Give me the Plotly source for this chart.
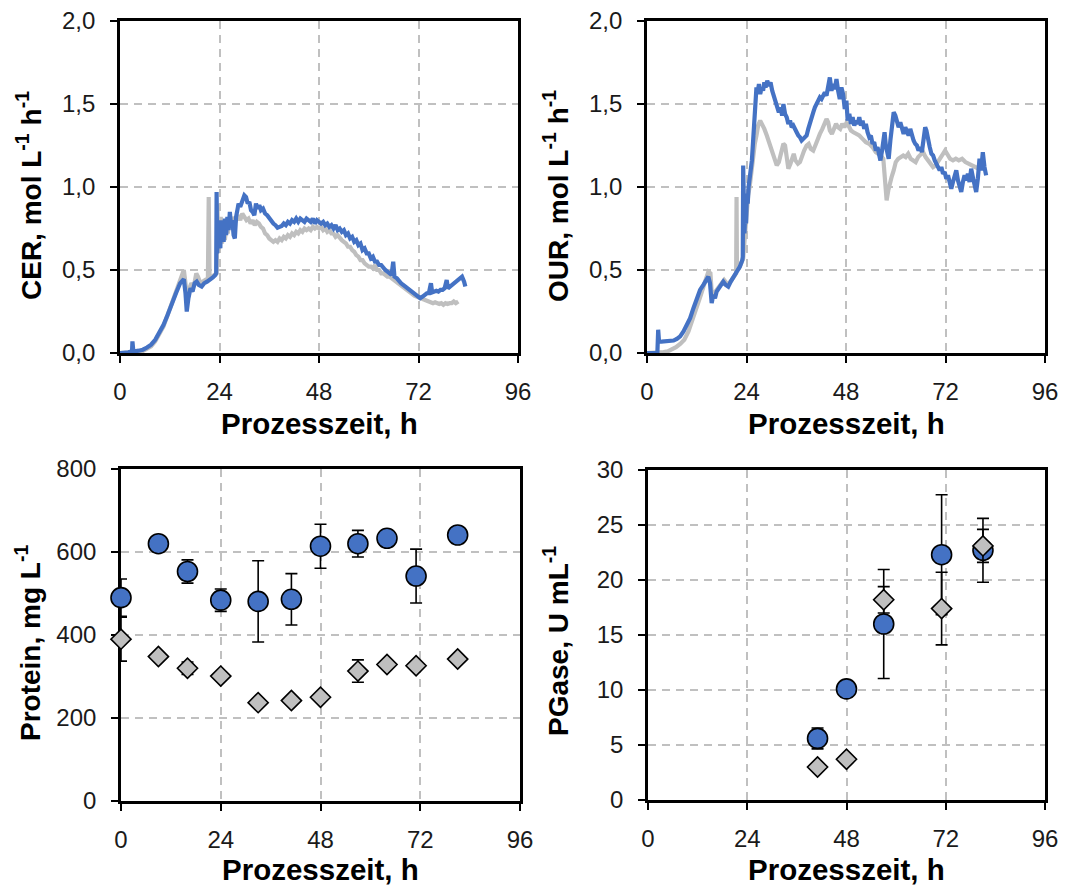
import plotly.graph_objects as go

# ---- Online off-gas data: (Prozesszeit h, rate mol L-1 h-1) ----
CER_BLUE = [(0, 0.0), (1.0, 0.0), (2.0, 0.004), (2.9, 0.01), (3.0, 0.07), (3.2, 0.015), (3.6, 0.01), (4.5, 0.014),
            (5.5, 0.02), (6.5, 0.033), (7.5, 0.05), (8.5, 0.08), (9.5, 0.12), (10.5, 0.17), (11.5, 0.23), (12.5, 0.30),
            (13.5, 0.36), (14.5, 0.42), (15.0, 0.44), (15.4, 0.445), (15.8, 0.36), (16.1, 0.25), (16.5, 0.33),
            (17.0, 0.39), (17.5, 0.37), (18.0, 0.42), (18.5, 0.43), (19.0, 0.41), (19.7, 0.40), (20.3, 0.42),
            (21.0, 0.43), (21.7, 0.44), (22.4, 0.455), (23.0, 0.47), (23.2, 0.48), (23.3, 0.97), (23.45, 0.60),
            (23.6, 0.80), (23.8, 0.65), (24.0, 0.77), (24.2, 0.63), (24.4, 0.80), (24.6, 0.69), (24.8, 0.78),
            (25.0, 0.67), (25.3, 0.81), (25.6, 0.71), (25.9, 0.82), (26.2, 0.74), (26.5, 0.85), (26.8, 0.76),
            (27.1, 0.80), (27.4, 0.71), (27.7, 0.69), (28.0, 0.82), (28.3, 0.86), (28.6, 0.90), (29.0, 0.88),
            (29.5, 0.92), (30.0, 0.95), (30.4, 0.94), (30.8, 0.90), (31.2, 0.91), (31.6, 0.86), (32.0, 0.85),
            (32.4, 0.83), (32.8, 0.90), (33.2, 0.87), (33.6, 0.89), (34.0, 0.86), (34.5, 0.87), (35.0, 0.84),
            (35.5, 0.83), (36.0, 0.81), (36.5, 0.80), (37.0, 0.78), (37.5, 0.77), (38.0, 0.755), (38.5, 0.76),
            (39.0, 0.765), (39.5, 0.78), (40.0, 0.77), (40.5, 0.79), (41.0, 0.78), (41.5, 0.80), (42.0, 0.79),
            (42.5, 0.81), (43.0, 0.79), (43.5, 0.81), (44.0, 0.80), (44.5, 0.79), (45.0, 0.81), (45.5, 0.80),
            (46.0, 0.79), (46.5, 0.81), (47.0, 0.78), (47.5, 0.80), (48.0, 0.79), (48.5, 0.78), (49.0, 0.79),
            (49.5, 0.77), (50.0, 0.78), (50.5, 0.76), (51.0, 0.77), (51.5, 0.75), (52.0, 0.77), (52.5, 0.74),
            (53.0, 0.75), (53.5, 0.73), (54.0, 0.74), (54.5, 0.71), (55.0, 0.72), (55.5, 0.69), (56.0, 0.70),
            (56.5, 0.67), (57.0, 0.68), (57.5, 0.65), (58.0, 0.66), (58.5, 0.62), (59.0, 0.63), (59.5, 0.60),
            (60.0, 0.60), (60.5, 0.57), (61.0, 0.58), (61.5, 0.55), (62.0, 0.55), (62.5, 0.53), (63.0, 0.53),
            (63.5, 0.51), (64.0, 0.50), (64.5, 0.49), (65.0, 0.48), (65.5, 0.47), (65.9, 0.55), (66.2, 0.46),
            (66.8, 0.45), (67.3, 0.43), (67.8, 0.42), (68.3, 0.41), (68.8, 0.40), (69.3, 0.39), (69.8, 0.38),
            (70.3, 0.37), (70.8, 0.36), (71.3, 0.35), (71.8, 0.34), (72.4, 0.33), (73.0, 0.34), (73.5, 0.35),
            (74.0, 0.36), (74.5, 0.36), (75.0, 0.42), (75.3, 0.365), (75.8, 0.37), (76.3, 0.375), (76.8, 0.37),
            (77.3, 0.38), (77.8, 0.38), (78.3, 0.39), (78.8, 0.44), (79.1, 0.39), (79.6, 0.40), (80.1, 0.41),
            (80.6, 0.42), (81.1, 0.43), (81.6, 0.44), (82.1, 0.45), (82.5, 0.46), (83.0, 0.43), (83.3, 0.40)]

CER_GRAY = [(0, 0.0), (2.0, 0.0), (3.5, 0.0), (4.5, 0.005), (5.5, 0.012), (6.5, 0.025), (7.5, 0.04), (8.5, 0.07),
            (9.5, 0.11), (10.5, 0.16), (11.5, 0.23), (12.5, 0.30), (13.5, 0.37), (14.5, 0.44), (15.0, 0.48),
            (15.4, 0.50), (15.8, 0.42), (16.2, 0.33), (16.6, 0.38), (17.2, 0.42), (17.8, 0.40), (18.4, 0.48),
            (18.8, 0.46), (19.4, 0.42), (20.0, 0.43), (20.6, 0.44), (21.2, 0.45), (21.4, 0.94), (21.6, 0.46),
            (22.2, 0.46), (22.8, 0.47), (23.3, 0.48), (23.5, 0.90), (23.7, 0.62), (24.0, 0.70), (24.3, 0.82),
            (24.6, 0.66), (25.0, 0.76), (25.3, 0.68), (25.7, 0.78), (26.0, 0.72), (26.4, 0.80), (26.8, 0.77),
            (27.2, 0.82), (27.6, 0.78), (28.0, 0.81), (28.5, 0.83), (29.0, 0.80), (29.5, 0.84), (30.0, 0.82),
            (30.5, 0.80), (31.0, 0.81), (31.5, 0.78), (32.0, 0.80), (32.5, 0.77), (33.0, 0.79), (33.5, 0.78),
            (34.0, 0.76), (34.5, 0.75), (35.0, 0.72), (35.5, 0.71), (36.0, 0.69), (36.5, 0.68), (37.0, 0.67),
            (37.5, 0.68), (38.0, 0.67), (38.5, 0.69), (39.0, 0.68), (39.5, 0.70), (40.0, 0.69), (40.5, 0.71),
            (41.0, 0.70), (41.5, 0.72), (42.0, 0.71), (42.5, 0.73), (43.0, 0.72), (43.5, 0.74), (44.0, 0.73),
            (44.5, 0.75), (45.0, 0.74), (45.5, 0.75), (46.0, 0.74), (46.5, 0.76), (47.0, 0.75), (47.5, 0.76),
            (48.0, 0.75), (48.5, 0.76), (49.0, 0.74), (49.5, 0.75), (50.0, 0.73), (50.5, 0.74), (51.0, 0.72),
            (51.5, 0.72), (52.0, 0.70), (52.5, 0.71), (53.0, 0.69), (53.5, 0.68), (54.0, 0.67), (54.5, 0.66),
            (55.0, 0.64), (55.5, 0.64), (56.0, 0.62), (56.5, 0.61), (57.0, 0.59), (57.5, 0.58), (58.0, 0.56),
            (58.5, 0.56), (59.0, 0.54), (59.5, 0.53), (60.0, 0.52), (60.5, 0.52), (61.0, 0.51), (61.5, 0.53),
            (62.0, 0.50), (62.5, 0.50), (63.0, 0.48), (63.5, 0.48), (64.0, 0.47), (64.5, 0.46), (65.0, 0.46),
            (65.5, 0.45), (66.0, 0.44), (66.5, 0.43), (67.0, 0.42), (67.5, 0.41), (68.0, 0.40), (68.5, 0.39),
            (69.0, 0.38), (69.5, 0.37), (70.0, 0.36), (70.5, 0.35), (71.0, 0.345), (71.5, 0.34), (72.0, 0.335),
            (72.5, 0.33), (73.0, 0.33), (73.5, 0.32), (74.0, 0.32), (74.5, 0.31), (75.0, 0.31), (75.5, 0.30),
            (76.0, 0.305), (76.5, 0.30), (77.0, 0.295), (77.5, 0.30), (78.0, 0.29), (78.5, 0.30), (79.0, 0.295),
            (79.5, 0.30), (80.0, 0.30), (80.5, 0.31), (81.0, 0.30), (81.6, 0.31)]

OUR_BLUE = [(0, 0.0), (2.5, 0.0), (2.7, 0.14), (2.9, 0.07), (3.5, 0.068), (4.5, 0.07), (5.5, 0.072), (6.4, 0.075),
            (7.2, 0.085), (8.0, 0.10), (8.8, 0.13), (9.6, 0.17), (10.4, 0.21), (11.2, 0.27), (12.0, 0.33),
            (12.8, 0.38), (13.6, 0.41), (14.2, 0.44), (14.8, 0.46), (15.2, 0.42), (15.6, 0.30), (16.0, 0.35),
            (16.4, 0.33), (16.8, 0.37), (17.4, 0.39), (18.0, 0.42), (18.4, 0.43), (19.0, 0.41), (19.6, 0.40),
            (20.2, 0.43), (20.7, 0.45), (21.2, 0.47), (21.8, 0.50), (22.4, 0.52), (23.0, 0.56), (23.1, 0.58),
            (23.2, 1.13), (23.35, 0.85), (23.5, 0.72), (23.7, 0.86), (23.9, 0.78), (24.1, 0.96), (24.3, 0.90),
            (24.5, 1.00), (24.8, 1.06), (25.0, 1.12), (25.3, 1.16), (25.6, 1.28), (25.9, 1.38), (26.1, 1.46),
            (26.4, 1.60), (26.7, 1.57), (27.0, 1.62), (27.3, 1.56), (27.7, 1.60), (28.0, 1.58), (28.3, 1.63),
            (28.6, 1.60), (29.0, 1.64), (29.4, 1.61), (29.8, 1.63), (30.2, 1.58), (30.6, 1.55), (31.0, 1.51),
            (31.4, 1.47), (31.8, 1.45), (32.2, 1.48), (32.6, 1.43), (32.9, 1.50), (33.3, 1.44), (33.7, 1.42),
            (34.1, 1.38), (34.5, 1.40), (34.9, 1.36), (35.3, 1.37), (35.7, 1.34), (36.1, 1.33), (36.5, 1.31),
            (36.9, 1.30), (37.3, 1.28), (37.7, 1.29), (38.1, 1.30), (38.5, 1.31), (38.9, 1.35), (39.3, 1.39),
            (39.7, 1.42), (40.1, 1.45), (40.5, 1.48), (40.9, 1.50), (41.3, 1.52), (41.7, 1.54), (42.1, 1.53),
            (42.5, 1.56), (42.9, 1.57), (43.3, 1.55), (43.7, 1.62), (44.1, 1.66), (44.5, 1.58), (44.9, 1.62),
            (45.3, 1.59), (45.7, 1.65), (46.1, 1.58), (46.5, 1.53), (46.9, 1.60), (47.3, 1.56), (47.7, 1.47),
            (48.1, 1.52), (48.4, 1.40), (48.8, 1.44), (49.2, 1.38), (49.6, 1.42), (50.0, 1.37), (50.4, 1.40),
            (50.8, 1.38), (51.2, 1.42), (51.6, 1.37), (52.0, 1.40), (52.4, 1.35), (52.8, 1.38), (53.2, 1.33),
            (53.6, 1.30), (54.0, 1.31), (54.4, 1.26), (54.8, 1.27), (55.2, 1.22), (55.6, 1.24), (56.0, 1.19),
            (56.3, 1.16), (56.7, 1.22), (57.0, 1.30), (57.3, 1.33), (57.6, 1.25), (58.0, 1.20), (58.3, 1.17),
            (58.7, 1.28), (59.1, 1.38), (59.5, 1.45), (59.9, 1.43), (60.3, 1.38), (60.7, 1.36), (61.1, 1.39),
            (61.5, 1.34), (61.9, 1.32), (62.3, 1.36), (62.7, 1.33), (63.1, 1.31), (63.5, 1.35), (63.9, 1.30),
            (64.3, 1.28), (64.7, 1.26), (65.1, 1.25), (65.5, 1.22), (65.9, 1.24), (66.3, 1.21), (66.7, 1.30),
            (67.1, 1.36), (67.4, 1.34), (67.8, 1.27), (68.2, 1.24), (68.6, 1.20), (69.0, 1.19), (69.4, 1.16),
            (69.8, 1.14), (70.2, 1.13), (70.6, 1.10), (71.0, 1.12), (71.4, 1.08), (71.8, 1.09), (72.2, 1.05),
            (72.6, 1.07), (73.0, 1.02), (73.4, 0.99), (73.8, 1.03), (74.2, 1.06), (74.6, 1.10), (75.0, 1.04),
            (75.4, 1.00), (75.8, 0.97), (76.2, 1.03), (76.6, 1.07), (77.0, 1.04), (77.4, 1.08), (77.8, 1.03),
            (78.2, 1.11), (78.6, 1.06), (79.0, 1.02), (79.4, 0.97), (79.8, 1.05), (80.2, 1.17), (80.6, 1.10),
            (81.0, 1.21), (81.4, 1.12), (81.8, 1.07)]

OUR_GRAY = [(0, 0.0), (3.0, 0.0), (4.0, 0.005), (5.0, 0.01), (6.0, 0.02), (7.0, 0.035), (8.0, 0.055), (9.0, 0.08),
            (10.0, 0.13), (11.0, 0.20), (12.0, 0.27), (13.0, 0.35), (14.0, 0.43), (14.8, 0.49), (15.3, 0.48),
            (15.7, 0.33), (16.2, 0.36), (16.8, 0.38), (17.4, 0.41), (18.0, 0.43), (18.6, 0.44), (19.2, 0.42),
            (19.8, 0.42), (20.4, 0.44), (21.0, 0.46), (21.5, 0.48), (21.6, 0.94), (21.7, 0.50), (22.2, 0.51),
            (22.8, 0.54), (23.2, 0.57), (23.6, 0.70), (24.0, 0.85), (24.4, 0.95), (24.8, 1.01), (25.2, 1.10),
            (25.6, 1.18), (26.0, 1.26), (26.4, 1.31), (26.8, 1.37), (27.3, 1.40), (27.8, 1.38), (28.3, 1.35),
            (28.9, 1.31), (29.5, 1.26), (30.1, 1.21), (30.7, 1.16), (31.3, 1.13), (31.8, 1.15), (32.2, 1.19),
            (32.5, 1.21), (32.9, 1.26), (33.3, 1.25), (33.7, 1.18), (34.1, 1.11), (34.6, 1.14), (35.0, 1.17),
            (35.4, 1.20), (35.8, 1.16), (36.4, 1.14), (36.9, 1.15), (37.4, 1.19), (37.9, 1.22), (38.5, 1.25),
            (39.0, 1.26), (39.5, 1.23), (40.1, 1.22), (40.6, 1.25), (41.1, 1.29), (41.7, 1.32), (42.3, 1.35),
            (42.8, 1.38), (43.3, 1.41), (43.7, 1.39), (44.1, 1.34), (44.6, 1.32), (45.1, 1.35), (45.6, 1.38),
            (46.1, 1.36), (46.6, 1.35), (47.1, 1.38), (47.6, 1.36), (48.2, 1.39), (48.7, 1.36), (49.2, 1.34),
            (49.8, 1.33), (50.5, 1.32), (51.2, 1.31), (52.0, 1.29), (52.8, 1.27), (53.6, 1.26), (54.4, 1.24),
            (55.2, 1.21), (55.8, 1.20), (56.4, 1.19), (57.0, 1.17), (57.4, 1.05), (57.8, 0.92), (58.2, 0.98),
            (58.6, 1.03), (59.0, 1.06), (59.5, 1.10), (60.0, 1.15), (60.6, 1.17), (61.2, 1.18), (61.8, 1.19),
            (62.4, 1.18), (63.0, 1.20), (63.6, 1.17), (64.2, 1.16), (64.8, 1.15), (65.4, 1.18), (66.0, 1.20),
            (66.6, 1.21), (67.2, 1.18), (67.8, 1.16), (68.4, 1.13), (69.0, 1.12), (69.6, 1.13), (70.2, 1.15),
            (70.8, 1.18), (71.4, 1.20), (71.9, 1.22), (72.5, 1.19), (73.1, 1.17), (73.8, 1.16), (74.5, 1.17),
            (75.2, 1.16), (76.0, 1.17), (76.8, 1.15), (77.6, 1.14), (78.4, 1.13), (79.2, 1.12), (80.0, 1.11),
            (80.6, 1.13), (81.1, 1.13)]

# ---- Offline samples ----
PROT_T = [0, 9, 16, 24, 33, 41, 48, 57, 64, 71, 81]
PROT_BLUE = [490, 620, 553, 484, 481, 486, 614, 620, 633, 542, 641]
PROT_BLUE_SD = [45, 0, 28, 27, 98, 62, 53, 32, 0, 65, 0]
PROT_GRAY = [390, 348, 320, 301, 237, 242, 250, 313, 329, 326, 342]
PROT_GRAY_SD = [53, 0, 15, 0, 0, 0, 0, 27, 0, 0, 0]

PG_T = [41, 48, 57, 71, 81]
PG_BLUE = [5.6, 10.1, 16.0, 22.3, 22.7]
PG_BLUE_SD = [0.95, 0, 4.95, 5.45, 2.9]
PG_GRAY = [3.0, 3.7, 18.2, 17.4, 23.1]
PG_GRAY_SD = [0, 0, 1.2, 3.3, 1.5]

BLUE = "#4472C4"
GRAY = "#BFBFBF"
FONT = "Liberation Sans, Arial, sans-serif"
W, H = 1065, 887


def px_x(a, b):
    return [a / W, b / W]


def px_y(top, bottom):
    return [1 - bottom / H, 1 - top / H]


fig = go.Figure()


def add_line(pairs, color, xa, ya):
    fig.add_trace(go.Scatter(x=[p[0] for p in pairs], y=[p[1] for p in pairs], mode="lines",
                             line=dict(color=color, width=4.2), xaxis=xa, yaxis=ya,
                             showlegend=False, cliponaxis=False))


add_line(CER_GRAY, GRAY, "x", "y")
add_line(CER_BLUE, BLUE, "x", "y")
add_line(OUR_GRAY, GRAY, "x2", "y2")
add_line(OUR_BLUE, BLUE, "x2", "y2")


def add_points(t, v, sd, symbol, fill, size, xa, ya):
    fig.add_trace(go.Scatter(
        x=t, y=v, mode="markers", xaxis=xa, yaxis=ya, showlegend=False, cliponaxis=False,
        marker=dict(symbol=symbol, size=size, color=fill, line=dict(color="black", width=1.6)),
        error_y=dict(type="data", array=sd, visible=True, color="black", thickness=1.6, width=6)))


add_points(PROT_T, PROT_BLUE, PROT_BLUE_SD, "circle", BLUE, 20, "x3", "y3")
add_points(PROT_T, PROT_GRAY, PROT_GRAY_SD, "diamond", GRAY, 15.5, "x3", "y3")
add_points(PG_T, PG_BLUE, PG_BLUE_SD, "circle", BLUE, 20, "x4", "y4")
add_points(PG_T, PG_GRAY, PG_GRAY_SD, "diamond", GRAY, 15.5, "x4", "y4")

axis_common = dict(showline=True, linecolor="black", linewidth=2.6, mirror=True, automargin=False,
                   ticks="outside", ticklen=7, tickwidth=2.4, tickcolor="black",
                   showgrid=True, gridcolor="#C0C0C0", gridwidth=1.8, griddash="8px,6px",
                   zeroline=False, layer="below traces",
                   tickfont=dict(family=FONT, size=24, color="#1a1a1a"))

xcommon = dict(axis_common, range=[0, 96], tick0=0, dtick=24, ticklabelstandoff=8)

fig.update_layout(
    width=W, height=H, margin=dict(l=0, r=0, t=0, b=0), autosize=False,
    paper_bgcolor="white", plot_bgcolor="white", separators=",.",
    xaxis=dict(xcommon, domain=px_x(120, 518), anchor="y"),
    yaxis=dict(axis_common, domain=px_y(21, 353), anchor="x", range=[0, 2], dtick=0.5,
               tickformat=".1f", ticklabelstandoff=10),
    xaxis2=dict(xcommon, domain=px_x(647, 1045), anchor="y2"),
    yaxis2=dict(axis_common, domain=px_y(21, 353), anchor="x2", range=[0, 2], dtick=0.5,
                tickformat=".1f", ticklabelstandoff=10),
    xaxis3=dict(xcommon, domain=px_x(121, 520), anchor="y3"),
    yaxis3=dict(axis_common, domain=px_y(469, 801), anchor="x3", range=[0, 800], dtick=200,
                ticklabelstandoff=10),
    xaxis4=dict(xcommon, domain=px_x(648, 1045), anchor="y4"),
    yaxis4=dict(axis_common, domain=px_y(470, 800), anchor="x4", range=[0, 30], dtick=5,
                ticklabelstandoff=10),
)

xtitle_font = dict(family=FONT, size=29.5, color="black", weight="bold")
ytitle_font = dict(family=FONT, size=28, color="black", weight="bold")
ann = []
# x-axis titles
for cx, cy in [(319, 423), (846, 423), (320, 869), (846, 869)]:
    ann.append(dict(text="Prozesszeit, h", x=cx / W, y=1 - cy / H, xref="paper", yref="paper",
                    xanchor="center", yanchor="middle", showarrow=False, font=xtitle_font))
# y-axis titles
ytitles = [("CER, mol L<sup>-1</sup> h<sup>-1</sup>", 29, 196),
           ("OUR, mol L<sup>-1</sup> h<sup>-1</sup>", 556, 196),
           ("Protein, mg L<sup>-1</sup>", 28, 643),
           ("PGase, U mL<sup>-1</sup>", 556, 641)]
for txt, cx, cy in ytitles:
    ann.append(dict(text=txt, x=cx / W, y=1 - cy / H, xref="paper", yref="paper", textangle=-90,
                    xanchor="center", yanchor="middle", showarrow=False, font=ytitle_font))
fig.update_layout(annotations=ann)

fig.write_html("out.html")
